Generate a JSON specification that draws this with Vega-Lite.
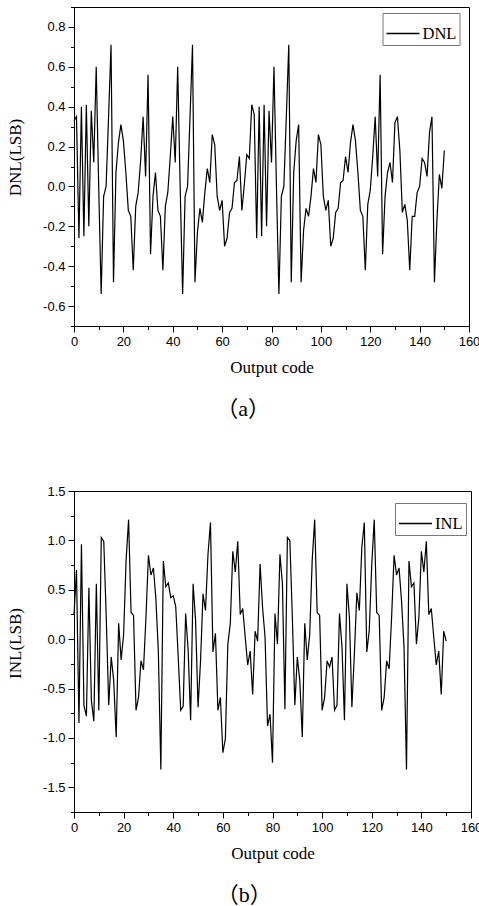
{
  "$schema": "https://vega.github.io/schema/vega-lite/v6.json",
  "padding": {"left": 6, "top": 0, "right": 0, "bottom": 0},
  "background": "white",
  "spacing": 64,
  "config": {
    "view": {"stroke": "black", "strokeWidth": 1},
    "axis": {
      "grid": false,
      "domainColor": "black",
      "tickColor": "black",
      "labelColor": "black",
      "labelFont": "Liberation Sans",
      "labelFontSize": 13,
      "titleFont": "Liberation Serif",
      "titleFontSize": 17,
      "titleFontWeight": "normal",
      "titleColor": "black",
      "labelOverlap": false,
      "labelFlush": false,
      "tickSize": 6
    },
    "axisX": {"labelPadding": 3.5, "titlePadding": 11},
    "axisY": {"labelPadding": 3, "titlePadding": 18, "titleY": 150},
    "legend": {
      "labelFont": "Liberation Serif",
      "labelFontSize": 16.5,
      "labelColor": "black",
      "symbolType": "stroke",
      "symbolSize": 1089,
      "symbolStrokeWidth": 1.3,
      "strokeColor": "#777",
      "fillColor": "white",
      "padding": 3,
      "labelOffset": 2
    },
    "title": {
      "orient": "bottom",
      "font": "Liberation Serif, Noto Sans CJK SC",
      "fontSize": 22,
      "fontWeight": "normal",
      "color": "black",
      "anchor": "middle",
      "frame": "bounds",
      "offset": 23
    }
  },
  "datasets": {
    "dnl": [
      {"code":0,"value":0.33},{"code":1,"value":0.35},{"code":2,"value":-0.26},{"code":3,"value":0.40},{"code":4,"value":-0.25},
      {"code":5,"value":0.41},{"code":6,"value":-0.20},{"code":7,"value":0.38},{"code":8,"value":0.12},{"code":9,"value":0.60},
      {"code":10,"value":0.0},{"code":11,"value":-0.54},{"code":12,"value":-0.05},{"code":13,"value":0.0},{"code":14,"value":0.35},
      {"code":15,"value":0.71},{"code":16,"value":-0.48},{"code":17,"value":0.07},{"code":18,"value":0.22},{"code":19,"value":0.31},
      {"code":20,"value":0.23},{"code":21,"value":0.07},{"code":22,"value":-0.12},{"code":23,"value":-0.15},{"code":24,"value":-0.42},
      {"code":25,"value":-0.10},{"code":26,"value":-0.03},{"code":27,"value":0.13},{"code":28,"value":0.35},{"code":29,"value":0.05},
      {"code":30,"value":0.56},{"code":31,"value":-0.34},{"code":32,"value":-0.05},{"code":33,"value":0.07},{"code":34,"value":-0.12},
      {"code":35,"value":-0.15},{"code":36,"value":-0.42},{"code":37,"value":-0.10},{"code":38,"value":-0.03},{"code":39,"value":0.15},
      {"code":40,"value":0.35},{"code":41,"value":0.12},{"code":42,"value":0.60},{"code":43,"value":0.0},{"code":44,"value":-0.54},
      {"code":45,"value":-0.05},{"code":46,"value":0.0},{"code":47,"value":0.35},{"code":48,"value":0.71},{"code":49,"value":-0.48},
      {"code":50,"value":-0.23},{"code":51,"value":-0.11},{"code":52,"value":-0.18},{"code":53,"value":-0.03},{"code":54,"value":0.09},
      {"code":55,"value":0.02},{"code":56,"value":0.26},{"code":57,"value":0.21},{"code":58,"value":-0.05},{"code":59,"value":-0.12},
      {"code":60,"value":-0.07},{"code":61,"value":-0.30},{"code":62,"value":-0.26},{"code":63,"value":-0.13},{"code":64,"value":-0.11},
      {"code":65,"value":0.02},{"code":66,"value":0.03},{"code":67,"value":0.15},{"code":68,"value":-0.12},{"code":69,"value":0.01},
      {"code":70,"value":0.16},{"code":71,"value":0.14},{"code":72,"value":0.41},{"code":73,"value":0.36},{"code":74,"value":-0.26},
      {"code":75,"value":0.40},{"code":76,"value":-0.25},{"code":77,"value":0.41},{"code":78,"value":-0.20},{"code":79,"value":0.38},
      {"code":80,"value":0.12},{"code":81,"value":0.60},{"code":82,"value":0.0},{"code":83,"value":-0.54},{"code":84,"value":-0.05},
      {"code":85,"value":0.0},{"code":86,"value":0.35},{"code":87,"value":0.71},{"code":88,"value":-0.48},{"code":89,"value":0.07},
      {"code":90,"value":0.23},{"code":91,"value":0.31},{"code":92,"value":-0.48},{"code":93,"value":-0.22},{"code":94,"value":-0.11},
      {"code":95,"value":-0.15},{"code":96,"value":-0.05},{"code":97,"value":0.09},{"code":98,"value":0.02},{"code":99,"value":0.26},
      {"code":100,"value":0.21},{"code":101,"value":-0.05},{"code":102,"value":-0.12},{"code":103,"value":-0.07},{"code":104,"value":-0.30},
      {"code":105,"value":-0.26},{"code":106,"value":-0.13},{"code":107,"value":-0.11},{"code":108,"value":0.02},{"code":109,"value":0.03},
      {"code":110,"value":0.15},{"code":111,"value":0.07},{"code":112,"value":0.22},{"code":113,"value":0.31},{"code":114,"value":0.23},
      {"code":115,"value":0.07},{"code":116,"value":-0.12},{"code":117,"value":-0.15},{"code":118,"value":-0.42},{"code":119,"value":-0.09},
      {"code":120,"value":-0.02},{"code":121,"value":0.15},{"code":122,"value":0.35},{"code":123,"value":0.05},{"code":124,"value":0.56},
      {"code":125,"value":-0.34},{"code":126,"value":-0.05},{"code":127,"value":0.07},{"code":128,"value":0.12},{"code":129,"value":0.02},
      {"code":130,"value":0.32},{"code":131,"value":0.35},{"code":132,"value":0.18},{"code":133,"value":-0.13},{"code":134,"value":-0.09},
      {"code":135,"value":-0.17},{"code":136,"value":-0.42},{"code":137,"value":-0.15},{"code":138,"value":-0.15},{"code":139,"value":-0.03},
      {"code":140,"value":0.0},{"code":141,"value":0.14},{"code":142,"value":0.12},{"code":143,"value":0.05},{"code":144,"value":0.27},
      {"code":145,"value":0.35},{"code":146,"value":-0.48},{"code":147,"value":-0.17},{"code":148,"value":0.06},{"code":149,"value":-0.01},
      {"code":150,"value":0.18}
    ],
    "inl": [
      {"code":0,"value":0.25},{"code":1,"value":0.70},{"code":2,"value":-0.85},{"code":3,"value":0.96},{"code":4,"value":-0.67},
      {"code":5,"value":-0.78},{"code":6,"value":0.52},{"code":7,"value":-0.62},{"code":8,"value":-0.83},{"code":9,"value":0.56},
      {"code":10,"value":-0.72},{"code":11,"value":1.03},{"code":12,"value":0.99},{"code":13,"value":0.22},{"code":14,"value":-0.67},
      {"code":15,"value":-0.18},{"code":16,"value":-0.42},{"code":17,"value":-0.99},{"code":18,"value":0.16},{"code":19,"value":-0.21},
      {"code":20,"value":0.05},{"code":21,"value":0.80},{"code":22,"value":1.21},{"code":23,"value":0.27},{"code":24,"value":0.24},
      {"code":25,"value":-0.72},{"code":26,"value":-0.59},{"code":27,"value":-0.22},{"code":28,"value":-0.31},{"code":29,"value":0.22},
      {"code":30,"value":0.85},{"code":31,"value":0.65},{"code":32,"value":0.72},{"code":33,"value":0.41},{"code":34,"value":-0.13},
      {"code":35,"value":-1.32},{"code":36,"value":0.79},{"code":37,"value":0.53},{"code":38,"value":0.57},{"code":39,"value":0.42},
      {"code":40,"value":0.44},{"code":41,"value":0.33},{"code":42,"value":-0.18},{"code":43,"value":-0.72},{"code":44,"value":-0.68},
      {"code":45,"value":0.26},{"code":46,"value":-0.11},{"code":47,"value":-0.82},{"code":48,"value":0.56},{"code":49,"value":0.19},
      {"code":50,"value":-0.69},{"code":51,"value":-0.22},{"code":52,"value":0.46},{"code":53,"value":0.29},{"code":54,"value":0.86},
      {"code":55,"value":1.18},{"code":56,"value":-0.13},{"code":57,"value":0.06},{"code":58,"value":-0.72},{"code":59,"value":-0.59},
      {"code":60,"value":-1.15},{"code":61,"value":-1.01},{"code":62,"value":-0.05},{"code":63,"value":0.16},{"code":64,"value":0.89},
      {"code":65,"value":0.68},{"code":66,"value":0.99},{"code":67,"value":0.25},{"code":68,"value":0.31},{"code":69,"value":0.02},
      {"code":70,"value":-0.26},{"code":71,"value":-0.12},{"code":72,"value":-0.56},{"code":73,"value":0.08},{"code":74,"value":-0.02},
      {"code":75,"value":0.76},{"code":76,"value":0.32},{"code":77,"value":0.02},{"code":78,"value":-0.88},{"code":79,"value":-0.76},
      {"code":80,"value":-1.25},{"code":81,"value":0.26},{"code":82,"value":-0.05},{"code":83,"value":0.86},{"code":84,"value":0.56},
      {"code":85,"value":-0.71},{"code":86,"value":1.03},{"code":87,"value":1.00},{"code":88,"value":0.22},{"code":89,"value":-0.67},
      {"code":90,"value":-0.18},{"code":91,"value":-0.42},{"code":92,"value":-0.99},{"code":93,"value":0.16},{"code":94,"value":-0.21},
      {"code":95,"value":0.05},{"code":96,"value":0.80},{"code":97,"value":1.21},{"code":98,"value":0.27},{"code":99,"value":0.24},
      {"code":100,"value":-0.72},{"code":101,"value":-0.59},{"code":102,"value":-0.22},{"code":103,"value":-0.28},{"code":104,"value":-0.18},
      {"code":105,"value":-0.72},{"code":106,"value":-0.67},{"code":107,"value":0.26},{"code":108,"value":-0.08},{"code":109,"value":-0.82},
      {"code":110,"value":0.56},{"code":111,"value":0.22},{"code":112,"value":-0.69},{"code":113,"value":-0.15},{"code":114,"value":0.47},
      {"code":115,"value":0.29},{"code":116,"value":0.93},{"code":117,"value":1.18},{"code":118,"value":-0.13},{"code":119,"value":0.09},
      {"code":120,"value":0.75},{"code":121,"value":1.21},{"code":122,"value":0.27},{"code":123,"value":0.24},{"code":124,"value":-0.72},
      {"code":125,"value":-0.59},{"code":126,"value":-0.22},{"code":127,"value":-0.30},{"code":128,"value":0.22},{"code":129,"value":0.85},
      {"code":130,"value":0.65},{"code":131,"value":0.72},{"code":132,"value":0.39},{"code":133,"value":-0.08},{"code":134,"value":-1.32},
      {"code":135,"value":0.79},{"code":136,"value":0.53},{"code":137,"value":0.57},{"code":138,"value":-0.05},{"code":139,"value":0.22},
      {"code":140,"value":0.89},{"code":141,"value":0.68},{"code":142,"value":0.99},{"code":143,"value":0.25},{"code":144,"value":0.31},
      {"code":145,"value":0.02},{"code":146,"value":-0.26},{"code":147,"value":-0.12},{"code":148,"value":-0.56},{"code":149,"value":0.08},
      {"code":150,"value":-0.02}
    ]
  },
  "vconcat": [
    {
      "width": 395,
      "height": 319,
      "title": {"text": "（a）"},
      "data": {"name": "dnl"},
      "mark": {"type": "line", "color": "black", "strokeWidth": 1.2},
      "encoding": {
        "x": {
          "field": "code", "type": "quantitative",
          "scale": {"domain": [0, 160], "nice": false, "zero": false},
          "axis": {
            "title": "Output code",
            "values": [0,10,20,30,40,50,60,70,80,90,100,110,120,130,140,150,160],
            "labelExpr": "datum.value % 20 == 0 ? datum.label : ''",
            "tickSize": {"condition": {"test": "datum.value % 20 == 0", "value": 6}, "value": 3.5}
          }
        },
        "y": {
          "field": "value", "type": "quantitative",
          "scale": {"domain": [-0.7, 0.9], "nice": false, "zero": false},
          "axis": {
            "title": "DNL(LSB)",
            "values": [-0.7,-0.6,-0.5,-0.4,-0.3,-0.2,-0.1,0,0.1,0.2,0.3,0.4,0.5,0.6,0.7,0.8,0.9],
            "labelExpr": "round(datum.value*10) % 2 == 0 ? replace(format(datum.value, '.1f'), '\u2212', '-') : ''",
            "tickSize": {"condition": {"test": "round(datum.value*10) % 2 == 0", "value": 6}, "value": 3.5}
          }
        },
        "color": {
          "datum": "DNL", "type": "nominal",
          "scale": {"range": ["black"]},
          "legend": {"title": null, "orient": "none", "legendX": 308.5, "legendY": 6}
        }
      }
    },
    {
      "width": 397,
      "height": 321,
      "title": {"text": "（b）"},
      "data": {"name": "inl"},
      "mark": {"type": "line", "color": "black", "strokeWidth": 1.2},
      "encoding": {
        "x": {
          "field": "code", "type": "quantitative",
          "scale": {"domain": [0, 160], "nice": false, "zero": false},
          "axis": {
            "title": "Output code",
            "values": [0,10,20,30,40,50,60,70,80,90,100,110,120,130,140,150,160],
            "labelExpr": "datum.value % 20 == 0 ? datum.label : ''",
            "tickSize": {"condition": {"test": "datum.value % 20 == 0", "value": 6}, "value": 3.5}
          }
        },
        "y": {
          "field": "value", "type": "quantitative",
          "scale": {"domain": [-1.75, 1.5], "nice": false, "zero": false},
          "axis": {
            "title": "INL(LSB)",
            "titleY": 152,
            "values": [-1.75,-1.5,-1.25,-1,-0.75,-0.5,-0.25,0,0.25,0.5,0.75,1,1.25,1.5],
            "labelExpr": "round(datum.value*4) % 2 == 0 ? replace(format(datum.value, '.1f'), '\u2212', '-') : ''",
            "tickSize": {"condition": {"test": "round(datum.value*4) % 2 == 0", "value": 6}, "value": 3.5}
          }
        },
        "color": {
          "datum": "INL", "type": "nominal",
          "scale": {"range": ["black"]},
          "legend": {"title": null, "orient": "none", "legendX": 321, "legendY": 12}
        }
      }
    }
  ],
  "resolve": {"scale": {"color": "independent"}, "legend": {"color": "independent"}}
}
